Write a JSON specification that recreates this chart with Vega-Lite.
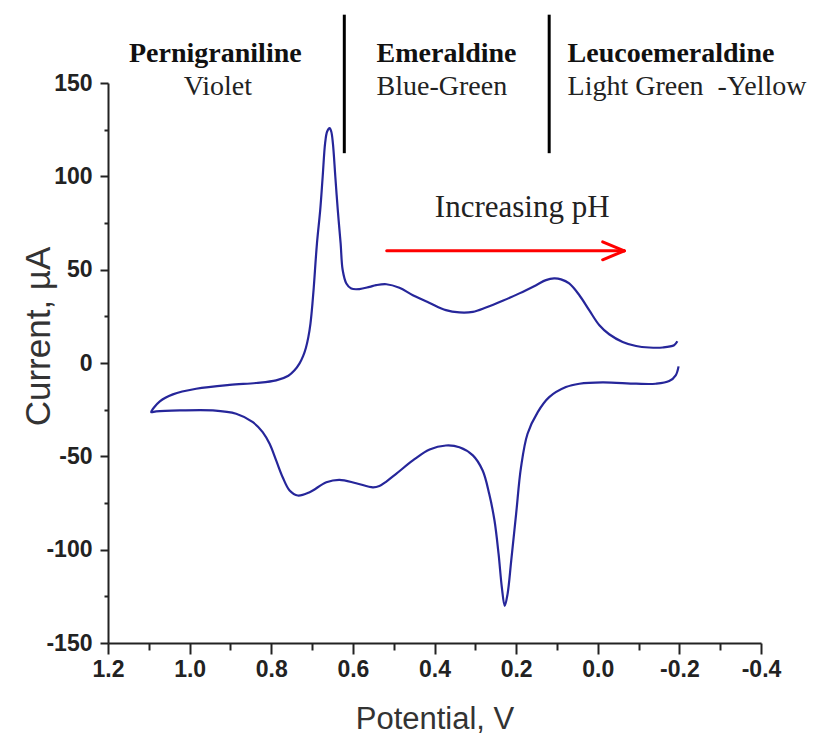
{
  "$schema": "https://vega.github.io/schema/vega-lite/v6.json",
  "width": 653,
  "height": 560,
  "autosize": "none",
  "padding": {"left": 108, "top": 83, "right": 57, "bottom": 93},
  "background": "white",
  "config": {
    "view": {"stroke": null},
    "axis": {
      "grid": false,
      "domainColor": "#222222",
      "domainWidth": 2,
      "tickColor": "#222222",
      "tickWidth": 2,
      "labelFont": "Liberation Sans",
      "labelFontWeight": "bold",
      "labelFontSize": 23,
      "labelColor": "#222222",
      "titleFont": "Liberation Sans",
      "titleFontWeight": "normal",
      "titleFontSize": 31,
      "titleColor": "#333333"
    }
  },
  "datasets": {
    "cv": [
      {"i": 0, "E": -0.195, "I": 11.6},
      {"i": 1, "E": -0.187, "I": 9.5},
      {"i": 2, "E": -0.159, "I": 8.3},
      {"i": 3, "E": -0.126, "I": 8.3},
      {"i": 4, "E": -0.094, "I": 9.1},
      {"i": 5, "E": -0.061, "I": 11.3},
      {"i": 6, "E": -0.028, "I": 15.4},
      {"i": 7, "E": -0.004, "I": 20.2},
      {"i": 8, "E": 0.021, "I": 28.3},
      {"i": 9, "E": 0.045, "I": 36.3},
      {"i": 10, "E": 0.07, "I": 42.6},
      {"i": 11, "E": 0.09, "I": 44.8},
      {"i": 12, "E": 0.107, "I": 45.3},
      {"i": 13, "E": 0.127, "I": 44.4},
      {"i": 14, "E": 0.151, "I": 41.7},
      {"i": 15, "E": 0.192, "I": 37.3},
      {"i": 16, "E": 0.233, "I": 33.3},
      {"i": 17, "E": 0.274, "I": 29.7},
      {"i": 18, "E": 0.306, "I": 27.4},
      {"i": 19, "E": 0.339, "I": 27.1},
      {"i": 20, "E": 0.372, "I": 28.3},
      {"i": 21, "E": 0.412, "I": 32.2},
      {"i": 22, "E": 0.453, "I": 36.3},
      {"i": 23, "E": 0.486, "I": 40.3},
      {"i": 24, "E": 0.518, "I": 42.2},
      {"i": 25, "E": 0.543, "I": 41.7},
      {"i": 26, "E": 0.559, "I": 40.8},
      {"i": 27, "E": 0.584, "I": 39.6},
      {"i": 28, "E": 0.604, "I": 39.9},
      {"i": 29, "E": 0.616, "I": 42.6},
      {"i": 30, "E": 0.625, "I": 49.8},
      {"i": 31, "E": 0.63, "I": 64.1},
      {"i": 32, "E": 0.637, "I": 82.0},
      {"i": 33, "E": 0.643, "I": 99.8},
      {"i": 34, "E": 0.649, "I": 117.8},
      {"i": 35, "E": 0.653, "I": 124.0},
      {"i": 36, "E": 0.657, "I": 125.8},
      {"i": 37, "E": 0.663, "I": 124.0},
      {"i": 38, "E": 0.668, "I": 117.8},
      {"i": 39, "E": 0.674, "I": 99.8},
      {"i": 40, "E": 0.68, "I": 82.0},
      {"i": 41, "E": 0.688, "I": 64.1},
      {"i": 42, "E": 0.696, "I": 40.0},
      {"i": 43, "E": 0.7, "I": 29.5},
      {"i": 44, "E": 0.704, "I": 21.0},
      {"i": 45, "E": 0.709, "I": 14.0},
      {"i": 46, "E": 0.715, "I": 8.2},
      {"i": 47, "E": 0.722, "I": 3.7},
      {"i": 48, "E": 0.731, "I": -0.3},
      {"i": 49, "E": 0.743, "I": -3.9},
      {"i": 50, "E": 0.758, "I": -6.8},
      {"i": 51, "E": 0.788, "I": -9.3},
      {"i": 52, "E": 0.837, "I": -10.7},
      {"i": 53, "E": 0.902, "I": -11.7},
      {"i": 54, "E": 0.984, "I": -13.8},
      {"i": 55, "E": 1.041, "I": -16.8},
      {"i": 56, "E": 1.073, "I": -20.6},
      {"i": 57, "E": 1.094, "I": -26.3},
      {"i": 58, "E": 1.082, "I": -25.9},
      {"i": 59, "E": 1.024, "I": -25.4},
      {"i": 60, "E": 0.943, "I": -25.4},
      {"i": 61, "E": 0.886, "I": -27.2},
      {"i": 62, "E": 0.845, "I": -31.7},
      {"i": 63, "E": 0.821, "I": -37.0},
      {"i": 64, "E": 0.804, "I": -43.3},
      {"i": 65, "E": 0.788, "I": -52.2},
      {"i": 66, "E": 0.772, "I": -61.2},
      {"i": 67, "E": 0.755, "I": -68.3},
      {"i": 68, "E": 0.735, "I": -71.0},
      {"i": 69, "E": 0.706, "I": -69.2},
      {"i": 70, "E": 0.665, "I": -63.9},
      {"i": 71, "E": 0.633, "I": -62.6},
      {"i": 72, "E": 0.592, "I": -64.4},
      {"i": 73, "E": 0.551, "I": -66.6},
      {"i": 74, "E": 0.535, "I": -65.9},
      {"i": 75, "E": 0.518, "I": -63.5},
      {"i": 76, "E": 0.494, "I": -59.4},
      {"i": 77, "E": 0.453, "I": -52.2},
      {"i": 78, "E": 0.412, "I": -46.3},
      {"i": 79, "E": 0.372, "I": -44.2},
      {"i": 80, "E": 0.339, "I": -45.1},
      {"i": 81, "E": 0.306, "I": -49.5},
      {"i": 82, "E": 0.282, "I": -57.6},
      {"i": 83, "E": 0.266, "I": -70.1},
      {"i": 84, "E": 0.253, "I": -84.4},
      {"i": 85, "E": 0.243, "I": -102.3},
      {"i": 86, "E": 0.235, "I": -120.2},
      {"i": 87, "E": 0.228, "I": -130.1},
      {"i": 88, "E": 0.221, "I": -123.8},
      {"i": 89, "E": 0.212, "I": -105.9},
      {"i": 90, "E": 0.2, "I": -80.8},
      {"i": 91, "E": 0.188, "I": -55.8},
      {"i": 92, "E": 0.172, "I": -37.9},
      {"i": 93, "E": 0.147, "I": -26.3},
      {"i": 94, "E": 0.119, "I": -18.3},
      {"i": 95, "E": 0.078, "I": -12.9},
      {"i": 96, "E": 0.045, "I": -11.1},
      {"i": 97, "E": -0.012, "I": -10.4},
      {"i": 98, "E": -0.094, "I": -11.1},
      {"i": 99, "E": -0.142, "I": -11.1},
      {"i": 100, "E": -0.175, "I": -9.7},
      {"i": 101, "E": -0.191, "I": -6.6},
      {"i": 102, "E": -0.198, "I": -1.8}
    ],
    "dividers": [
      {"E": 0.621, "top": 186.6, "bottom": 112.4},
      {"E": 0.119, "top": 186.6, "bottom": 112.4}
    ],
    "arrow": [
      {"E": 0.517, "I": 60.1, "E2": -0.065, "I2": 60.1},
      {"E": -0.012, "I": 64.9, "E2": -0.065, "I2": 60.1},
      {"E": -0.012, "I": 55.3, "E2": -0.065, "I2": 60.1}
    ],
    "namesCenter": [{"E": 0.937, "I": 161.0, "label": "Pernigraniline"}],
    "coloursCenter": [{"E": 0.931, "I": 143.7, "label": "Violet"}],
    "namesLeft": [
      {"E": 0.542, "I": 161.0, "label": "Emeraldine"},
      {"E": 0.074, "I": 161.0, "label": "Leucoemeraldine"}
    ],
    "coloursLeft": [
      {"E": 0.542, "I": 143.7, "label": "Blue-Green"},
      {"E": 0.074, "I": 143.7, "label": "Light Green\u00a0 -Yellow"}
    ],
    "trend": [{"E": 0.185, "I": 78.3, "label": "Increasing pH"}]
  },
  "layer": [
    {
      "data": {"name": "cv"},
      "mark": {"type": "line", "color": "#26269a", "strokeWidth": 2.2, "interpolate": "catmull-rom"},
      "encoding": {
        "x": {
          "field": "E",
          "type": "quantitative",
          "scale": {"domain": [-0.4, 1.2], "reverse": true, "nice": false, "zero": false},
          "axis": {
            "title": "Potential, V",
            "values": [-0.4, -0.3, -0.2, -0.1, 0, 0.1, 0.2, 0.3, 0.4, 0.5, 0.6, 0.7, 0.8, 0.9, 1.0, 1.1, 1.2],
            "labelExpr": "abs(round(datum.value*10)) % 2 == 0 ? replace(format(datum.value, '.1f'), '\u2212', '-') : ''",
            "tickSize": {"condition": {"test": "abs(round(datum.value*10)) % 2 == 1", "value": 7}, "value": 11},
            "labelPadding": 4,
            "labelFlush": false,
            "labelOverlap": false,
            "titleY": 85,
            "titleBaseline": "alphabetic"
          }
        },
        "y": {
          "field": "I",
          "type": "quantitative",
          "scale": {"domain": [-150, 150], "nice": false, "zero": false},
          "axis": {
            "title": "Current, \u00b5A",
            "values": [-150, -125, -100, -75, -50, -25, 0, 25, 50, 75, 100, 125, 150],
            "labelExpr": "datum.value % 50 == 0 ? replace(format(datum.value, 'd'), '\u2212', '-') : ''",
            "tickSize": {"condition": {"test": "datum.value % 50 != 0", "value": 4}, "value": 8},
            "labelPadding": 8,
            "labelFlush": false,
            "labelOverlap": false,
            "titleFontSize": 35,
            "titleX": -59,
            "titleY": 253,
            "titleAngle": 270,
            "titleAlign": "center",
            "titleBaseline": "alphabetic"
          }
        },
        "order": {"field": "i", "type": "quantitative"}
      }
    },
    {
      "data": {"name": "dividers"},
      "mark": {"type": "rule", "color": "black", "strokeWidth": 3, "clip": false},
      "encoding": {
        "x": {"field": "E", "type": "quantitative"},
        "y": {"field": "top", "type": "quantitative"},
        "y2": {"field": "bottom"}
      }
    },
    {
      "data": {"name": "arrow"},
      "mark": {"type": "rule", "color": "#ff0000", "strokeWidth": 3, "strokeCap": "round"},
      "encoding": {
        "x": {"field": "E", "type": "quantitative"},
        "y": {"field": "I", "type": "quantitative"},
        "x2": {"field": "E2"},
        "y2": {"field": "I2"}
      }
    },
    {
      "data": {"name": "namesCenter"},
      "mark": {"type": "text", "font": "Liberation Serif", "fontWeight": "bold", "fontSize": 28, "align": "center", "baseline": "alphabetic", "color": "#111111"},
      "encoding": {
        "x": {"field": "E", "type": "quantitative"},
        "y": {"field": "I", "type": "quantitative"},
        "text": {"field": "label"}
      }
    },
    {
      "data": {"name": "coloursCenter"},
      "mark": {"type": "text", "font": "Liberation Serif", "fontSize": 28, "align": "center", "baseline": "alphabetic", "color": "#222222"},
      "encoding": {
        "x": {"field": "E", "type": "quantitative"},
        "y": {"field": "I", "type": "quantitative"},
        "text": {"field": "label"}
      }
    },
    {
      "data": {"name": "namesLeft"},
      "mark": {"type": "text", "font": "Liberation Serif", "fontWeight": "bold", "fontSize": 28, "align": "left", "baseline": "alphabetic", "color": "#111111"},
      "encoding": {
        "x": {"field": "E", "type": "quantitative"},
        "y": {"field": "I", "type": "quantitative"},
        "text": {"field": "label"}
      }
    },
    {
      "data": {"name": "coloursLeft"},
      "mark": {"type": "text", "font": "Liberation Serif", "fontSize": 28, "align": "left", "baseline": "alphabetic", "color": "#222222"},
      "encoding": {
        "x": {"field": "E", "type": "quantitative"},
        "y": {"field": "I", "type": "quantitative"},
        "text": {"field": "label"}
      }
    },
    {
      "data": {"name": "trend"},
      "mark": {"type": "text", "font": "Liberation Serif", "fontSize": 31, "align": "center", "baseline": "alphabetic", "color": "#222222"},
      "encoding": {
        "x": {"field": "E", "type": "quantitative"},
        "y": {"field": "I", "type": "quantitative"},
        "text": {"field": "label"}
      }
    }
  ]
}
